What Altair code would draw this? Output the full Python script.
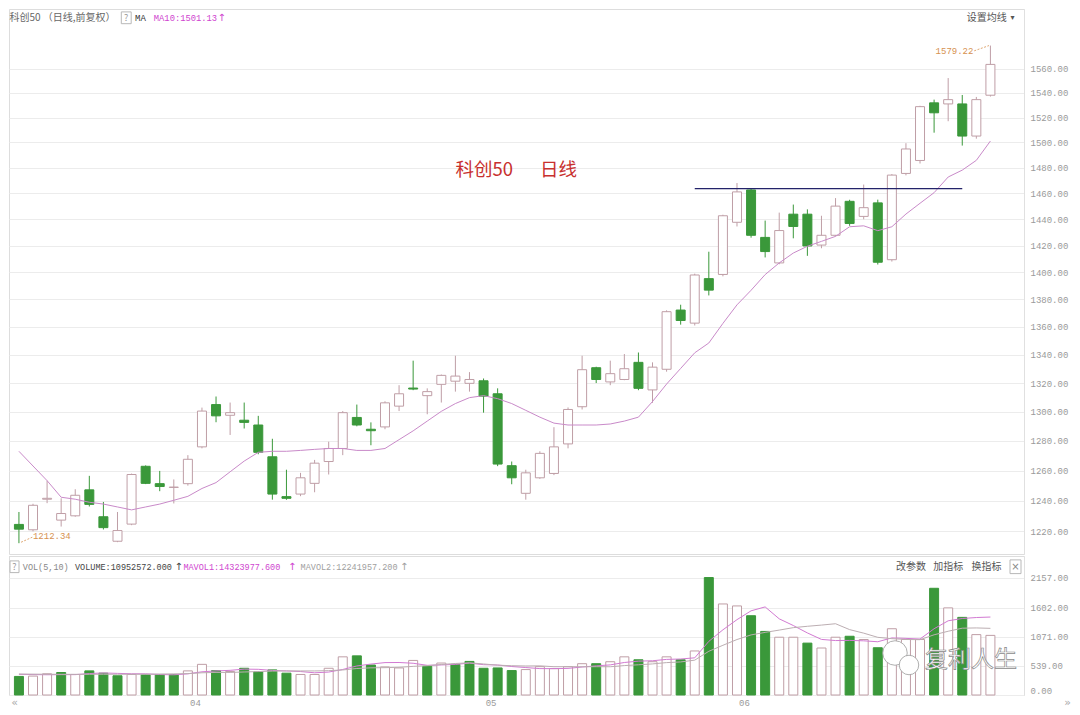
import altair as alt
import pandas as pd

# ---------------- data ----------------
idx = list(range(70))
opens = [1224.5, 1221.0, 1241.0, 1227.3, 1230.1, 1247.2, 1229.5, 1213.6, 1224.7, 1262.9,
         1251.3, 1248.8, 1251.3, 1276.0, 1305.0, 1297.6, 1294.2, 1290.9, 1269.3, 1242.7,
         1244.4, 1251.5, 1266.1, 1274.9, 1296.1, 1288.0, 1289.6, 1303.9, 1316.5, 1311.2,
         1319.1, 1321.3, 1319.8, 1321.6, 1312.5, 1263.3, 1244.9, 1255.2, 1258.1, 1278.0,
         1303.5, 1330.8, 1320.8, 1322.5, 1334.6, 1315.2, 1329.7, 1372.2, 1362.7, 1395.3,
         1398.4, 1437.7, 1462.6, 1426.2, 1407.0, 1443.9, 1443.9, 1420.4, 1427.8, 1453.8,
         1442.2, 1452.6, 1409.4, 1475.5, 1485.7, 1531.9, 1531.0, 1531.0, 1505.1, 1538.1]
highs = [1232.6, 1238.0, 1253.3, 1241.6, 1247.6, 1256.5, 1239.2, 1232.6, 1258.0, 1263.5,
         1259.8, 1254.1, 1270.4, 1302.9, 1310.6, 1306.4, 1306.4, 1297.2, 1281.5, 1260.6,
         1258.5, 1267.2, 1279.5, 1300.5, 1305.0, 1292.7, 1307.3, 1318.5, 1335.8, 1316.3,
         1326.0, 1339.3, 1327.7, 1323.2, 1316.3, 1266.1, 1260.6, 1273.0, 1289.4, 1303.0,
         1339.3, 1331.5, 1335.8, 1340.5, 1341.6, 1334.6, 1372.0, 1376.1, 1399.0, 1415.4,
         1443.5, 1468.0, 1463.5, 1439.0, 1445.1, 1451.3, 1447.6, 1442.7, 1456.3, 1455.0,
         1466.8, 1455.1, 1475.0, 1499.4, 1529.5, 1534.5, 1552.2, 1538.3, 1536.7, 1579.22]
lows = [1212.34, 1220.0, 1238.4, 1223.1, 1229.5, 1236.2, 1221.2, 1213.0, 1224.0, 1251.0,
        1246.3, 1238.2, 1250.0, 1275.0, 1292.8, 1284.1, 1288.5, 1271.0, 1240.7, 1240.6,
        1243.0, 1245.6, 1257.4, 1270.4, 1290.0, 1277.1, 1288.0, 1300.5, 1315.0, 1298.3,
        1306.4, 1314.0, 1314.0, 1299.4, 1263.0, 1250.9, 1240.7, 1254.5, 1257.0, 1275.0,
        1301.6, 1320.0, 1318.5, 1322.0, 1315.0, 1306.2, 1328.0, 1361.6, 1361.0, 1382.9,
        1397.0, 1434.5, 1426.0, 1411.1, 1406.0, 1425.5, 1412.3, 1418.0, 1427.0, 1435.0,
        1440.0, 1405.8, 1408.0, 1474.0, 1483.3, 1507.8, 1517.0, 1497.5, 1503.0, 1537.0]
closes = [1221.4, 1237.0, 1241.6, 1231.6, 1243.6, 1237.6, 1222.4, 1220.5, 1257.4, 1251.5,
          1249.4, 1249.0, 1267.6, 1300.5, 1297.2, 1299.4, 1292.7, 1272.3, 1244.4, 1241.6,
          1255.2, 1265.0, 1274.9, 1299.4, 1290.9, 1287.0, 1306.2, 1312.5, 1315.8, 1314.0,
          1325.4, 1324.9, 1322.5, 1310.8, 1264.4, 1255.2, 1258.5, 1271.6, 1276.0, 1301.6,
          1329.4, 1322.5, 1326.6, 1330.1, 1316.3, 1331.2, 1371.0, 1364.6, 1398.0, 1386.8,
          1442.7, 1461.1, 1427.8, 1415.5, 1431.4, 1434.5, 1419.7, 1427.8, 1450.1, 1436.8,
          1448.9, 1407.5, 1474.2, 1494.8, 1528.8, 1523.8, 1534.5, 1505.1, 1534.5, 1563.5]
ma10 = [1273.0, 1263.1, 1253.3, 1242.3, 1241.0, 1239.0, 1237.8, 1235.9, 1234.0, 1235.9,
        1237.8, 1240.3, 1242.9, 1248.1, 1252.0, 1259.2, 1266.4, 1272.3, 1273.0, 1273.0,
        1273.6, 1274.3, 1274.9, 1274.9, 1273.6, 1273.6, 1274.9, 1280.9, 1286.9, 1293.6,
        1300.3, 1305.7, 1309.8, 1311.2, 1309.1, 1305.7, 1301.0, 1296.3, 1292.2, 1290.9,
        1290.9, 1290.9, 1291.6, 1293.6, 1296.3, 1307.1, 1319.3, 1330.3, 1341.4, 1348.4,
        1362.5, 1376.0, 1386.7, 1398.3, 1407.0, 1414.4, 1419.5, 1423.2, 1427.0, 1434.3,
        1435.0, 1431.3, 1434.3, 1444.0, 1452.3, 1460.5, 1472.7, 1478.1, 1485.8, 1501.13]
volume = [341, 347, 390, 413, 377, 443, 401, 353, 377, 371,
          377, 377, 443, 563, 449, 431, 491, 425, 461, 401,
          377, 377, 491, 701, 719, 551, 515, 497, 635, 527,
          587, 563, 617, 491, 497, 449, 467, 521, 485, 521,
          575, 575, 611, 701, 647, 611, 701, 647, 809, 2157,
          1672, 1636, 1456, 1168, 1061, 1061, 953, 863, 1061, 1079,
          1019, 868, 1217, 1019, 1019, 1960, 1600, 1426, 1109, 1095]
mavol1 = [380, 375, 372, 374, 374, 394, 405, 397, 390, 389,
          376, 371, 389, 426, 442, 453, 475, 472, 451, 442,
          431, 408, 421, 469, 533, 568, 595, 597, 583, 545,
          552, 562, 586, 557, 551, 523, 504, 485, 484, 489,
          514, 535, 553, 597, 622, 629, 654, 661, 683, 985,
          1197, 1384, 1546, 1618, 1399, 1276, 1140, 1021, 1000, 1003,
          995, 978, 1049, 1040, 1028, 1217, 1363, 1405, 1423, 1432]
mavol2 = [385, 383, 381, 380, 379, 380, 381, 381, 381, 381,
          385, 388, 393, 408, 415, 414, 423, 430, 439, 442,
          442, 442, 447, 460, 487, 499, 502, 509, 526, 539,
          560, 579, 591, 570, 548, 538, 533, 535, 520, 520,
          519, 520, 519, 540, 555, 571, 595, 607, 640, 803,
          913, 1019, 1104, 1150, 1192, 1237, 1262, 1284, 1309, 1201,
          1136, 1059, 1035, 1020, 1016, 1106, 1171, 1227, 1232, 1224]
price_ticks = [1220, 1240, 1260, 1280, 1300, 1320, 1340, 1360, 1380, 1400,
               1420, 1440, 1460, 1480, 1500, 1520, 1540, 1560]
vol_ticks = [0, 539, 1071, 1602, 2157]
month_labels = ["04", "05", "06"]
month_first_idx = [13, 34, 52]
resist_level = [1463.6]
resist_from = [48]
resist_to = [67]

# ---------------- styles ----------------
CJK = "Noto Sans CJK SC"
MONO = "Liberation Mono"
GREEN = "#3a983a"
UP_LINE = "#bf9ea6"
MA_C = "#c98ac9"
MV1_C = "#d27ad2"
MV2_C = "#bcaeb2"
ORANGE = "#d6914f"
RED = "#c8302e"
NAVY = "#23236a"
MAG = "#cf45cf"

W = 1015
HT = 545
HB = 139

df = pd.DataFrame(dict(i=idx, open=opens, high=highs, low=lows, close=closes,
                       ma10=ma10, vol=volume, mv1=mavol1, mv2=mavol2))
prev_close = df["close"].shift(1).fillna(df["open"])
df["vol_up"] = df["close"] >= prev_close

X = alt.Scale(domain=[-0.35, 71.03], nice=False, zero=False)
YP = alt.Scale(type="log", domain=[1205.4, 1610.2], nice=False, zero=False)
YV = alt.Scale(domain=[0, 2553], nice=False, zero=False)

yax = alt.Axis(orient="right", values=price_ticks, format=".2f", title=None, grid=True,
               gridColor="#ececec", ticks=False, domainColor="#e0e0e0",
               labelFont=MONO, labelFontSize=9, labelColor="#9a9a9a", labelPadding=6)
vax = alt.Axis(orient="right", values=vol_ticks, format=".2f", title=None, grid=True,
               gridColor="#ececec", ticks=False, domainColor="#e0e0e0",
               labelFont=MONO, labelFontSize=9, labelColor="#9a9a9a", labelPadding=6,
               labelFlush=True)
label_expr = " : ".join(f"datum.value == {m - 0.5} ? '{lab}'" for m, lab in zip(month_first_idx, month_labels)) + " : ''"
xax = alt.Axis(values=[m - 0.5 for m in month_first_idx], labelExpr=label_expr, title=None,
               grid=False, ticks=False, domain=False, labelFont=MONO, labelFontSize=9,
               labelColor="#9a9a9a", labelPadding=3)

up_cond = "datum.close >= datum.open"
base = alt.Chart(df)
xe = alt.X("i:Q", scale=X, axis=None)


def txt(s, x, y, color, size=10, font=CJK, align="left", **kw):
    return alt.Chart(pd.DataFrame({"t": [s]})).mark_text(
        align=align, baseline="middle", font=font, fontSize=size, color=color, **kw
    ).encode(x=alt.value(x), y=alt.value(y), text="t:N")


def box(x1, x2, y1, y2):
    return alt.Chart(pd.DataFrame({"a": [0]})).mark_rect(
        fill="white", stroke="#b8b8b8", strokeWidth=1
    ).encode(x=alt.value(x1), x2=alt.value(x2), y=alt.value(y1), y2=alt.value(y2))


def bubble(x, y, size):
    return alt.Chart(pd.DataFrame({"a": [0]})).mark_point(
        shape="circle", filled=True, fill="white", stroke="#9a9a9a", strokeWidth=0.8,
        size=size, opacity=1
    ).encode(x=alt.value(x), y=alt.value(y))


# ---------------- price panel ----------------
wick = base.mark_rule(strokeWidth=1).encode(
    x=xe, y=alt.Y("low:Q", scale=YP, axis=yax), y2="high:Q",
    color=alt.condition(up_cond, alt.value(UP_LINE), alt.value(GREEN)))
body = base.mark_bar(size=9, strokeWidth=1).encode(
    x=xe, y=alt.Y("open:Q", scale=YP, axis=yax), y2="close:Q",
    fill=alt.condition(up_cond, alt.value("white"), alt.value(GREEN)),
    stroke=alt.condition(up_cond, alt.value(UP_LINE), alt.value(GREEN)))
ma_line = base.mark_line(color=MA_C, strokeWidth=1).encode(
    x=xe, y=alt.Y("ma10:Q", scale=YP, axis=yax))
res = alt.Chart(pd.DataFrame({"a": resist_from, "b": resist_to, "v": resist_level})).mark_rule(
    color=NAVY, strokeWidth=1.2).encode(
    x=alt.X("a:Q", scale=X, axis=None), x2="b:Q", y=alt.Y("v:Q", scale=YP, axis=yax))

hi_i = int(df["high"].idxmax()); hi_v = float(df["high"].max())
lo_i = int(df["low"].idxmin()); lo_v = float(df["low"].min())
hl = pd.DataFrame({"i": [hi_i, lo_i], "v": [hi_v, lo_v], "t": [f"{hi_v:.2f}", f"{lo_v:.2f}"],
                   "k": ["hi", "lo"]})
hi_txt = alt.Chart(hl).transform_filter("datum.k == 'hi'").mark_text(
    align="right", baseline="middle", dx=-17, dy=5, font=MONO, fontSize=9, color=ORANGE
).encode(x=alt.X("i:Q", scale=X, axis=None), y=alt.Y("v:Q", scale=YP, axis=yax), text="t:N")
lo_txt = alt.Chart(hl).transform_filter("datum.k == 'lo'").mark_text(
    align="left", baseline="middle", dx=14, dy=-7, font=MONO, fontSize=9, color=ORANGE
).encode(x=alt.X("i:Q", scale=X, axis=None), y=alt.Y("v:Q", scale=YP, axis=yax), text="t:N")
hi_arrow = alt.Chart(pd.DataFrame({"i": [hi_i - 1.15, hi_i - 0.1], "v": [hi_v * 0.9972, hi_v]})).mark_line(
    color=ORANGE, strokeWidth=0.8, strokeDash=[2, 1.5]).encode(
    x=alt.X("i:Q", scale=X, axis=None), y=alt.Y("v:Q", scale=YP, axis=yax))
lo_arrow = alt.Chart(pd.DataFrame({"i": [lo_i + 0.15, lo_i + 0.95], "v": [lo_v * 1.0005, lo_v * 1.0032]})).mark_line(
    color=ORANGE, strokeWidth=0.8, strokeDash=[2, 1.5]).encode(
    x=alt.X("i:Q", scale=X, axis=None), y=alt.Y("v:Q", scale=YP, axis=yax))

hdr_y = 8.8
top_text = [
    txt("科创50 （日线,前复权）", 0.5, hdr_y, "#666666", 10),
    box(112.3, 122.2, 2.9, 14.7),
    txt("?", 117.2, hdr_y, "#999999", 9, align="center"),
    txt("MA", 126.1, hdr_y, "#333333", 9, font=MONO),
    txt("MA10:1501.13", 144.8, hdr_y, MAG, 8.8, font=MONO),
    txt("↑", 208.5, hdr_y, MAG, 10, font="DejaVu Sans"),
    txt("设置均线", 957.8, hdr_y, "#555555", 10),
    txt("▾", 1001.5, hdr_y, "#555555", 8, font="DejaVu Sans"),
    txt("科创50", 446.4, 161.3, RED, 18.5),
    txt("日线", 531.0, 161.3, RED, 18.5),
]

top = alt.layer(wick, body, ma_line, res, hi_arrow, lo_arrow, hi_txt, lo_txt, *top_text).properties(
    width=W, height=HT)

# ---------------- volume panel ----------------
xv = alt.X("i:Q", scale=X, axis=xax)
vbars = base.mark_bar(size=9, strokeWidth=1).encode(
    x=xv, y=alt.Y("vol:Q", scale=YV, axis=vax),
    fill=alt.condition("datum.vol_up", alt.value("white"), alt.value(GREEN)),
    stroke=alt.condition("datum.vol_up", alt.value(UP_LINE), alt.value(GREEN)))
mv1_line = base.mark_line(color=MV1_C, strokeWidth=1).encode(
    x=xv, y=alt.Y("mv1:Q", scale=YV, axis=vax))
mv2_line = base.mark_line(color=MV2_C, strokeWidth=1).encode(
    x=xv, y=alt.Y("mv2:Q", scale=YV, axis=vax))
sep = alt.Chart(pd.DataFrame({"a": [0]})).mark_rule(color="#dddddd", strokeWidth=1).encode(
    x=alt.value(0), x2=alt.value(W), y=alt.value(0.5))

vh = 10.75
bot_text = [
    box(1, 10, 4.9, 16.6),
    txt("?", 5.5, vh, "#999999", 9, align="center"),
    txt("VOL(5,10)", 13.8, vh, "#888888", 8.5, font=MONO),
    txt("VOLUME:10952572.000", 66.0, vh, "#444444", 8.5, font=MONO),
    txt("↑", 165.5, vh, "#444444", 10, font="DejaVu Sans"),
    txt("MAVOL1:14323977.600", 174.4, vh, MAG, 8.5, font=MONO),
    txt("↑", 279.0, vh, MAG, 10, font="DejaVu Sans"),
    txt("MAVOL2:12241957.200", 291.6, vh, "#a0a0a0", 8.5, font=MONO),
    txt("↑", 391.0, vh, "#a0a0a0", 10, font="DejaVu Sans"),
    txt("改参数", 886.9, vh, "#555555", 10),
    txt("加指标", 924.2, vh, "#555555", 10),
    txt("换指标", 962.6, vh, "#555555", 10),
    box(1001, 1012, 3.9, 17.6),
    txt("×", 1006.5, vh, "#888888", 10, align="center", font="DejaVu Sans"),
    bubble(886, 97, 600),
    bubble(900, 109, 380),
    txt("复利人生", 962.0, 103.6, "white", 23, align="center", stroke="#8a8a8a", strokeWidth=0.7),
    txt("«", 5.5, 146.6, "#aaaaaa", 11, align="center", font="DejaVu Sans"),
    txt("»", 1058.5, 146.6, "#aaaaaa", 11, align="center", font="DejaVu Sans"),
]

bottom = alt.layer(vbars, mv1_line, mv2_line, sep, *bot_text).properties(width=W, height=HB)

chart = alt.vconcat(top, bottom, spacing=0).properties(padding=0).configure_view(
    stroke=None).configure(background="white")

chart.save("out.html", embed_options={"renderer": "svg", "actions": False})
